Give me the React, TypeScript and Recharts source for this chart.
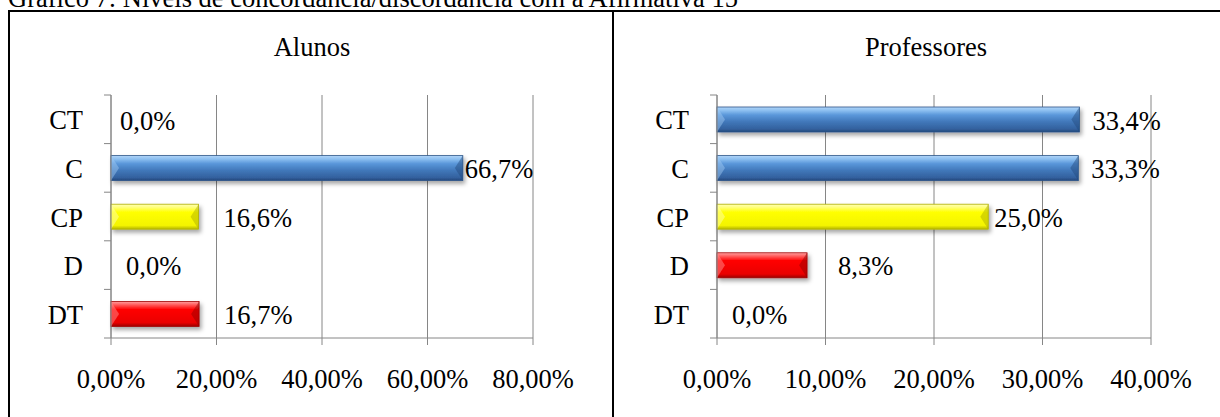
import React from 'react';
import { BarChart, Bar, XAxis, YAxis, CartesianGrid, LabelList } from 'recharts';

const categories = ['CT', 'C', 'CP', 'D', 'DT'];
const alunosValues = [0, 66.7, 16.6, 0, 16.7];
const professoresValues = [33.4, 33.3, 25.0, 8.3, 0];
const alunosTicks = [0, 20, 40, 60, 80];
const professoresTicks = [0, 10, 20, 30, 40];

const toneByCategory: Record<string, string> = { CT: 'blue', C: 'blue', CP: 'yellow', D: 'red', DT: 'red' };

// extra room (px) between a bar's end and its value label
const alunosLabelGap = [9, 2, 25, 15, 25];
const professoresLabelGap = [13, 13, 6, 31, 15];

const FONT = '"Liberation Serif", "Times New Roman", serif';
const FS = 26.5;
const GRID = '#868686';
const CHART_H = 417;
const PLOT_TOP = 95;
const PLOT_BOTTOM = 338;
const X_AXIS_H = 40;
const Y_AXIS_W = 60;

const TONES: Record<string, { stops: [number, string][]; light: string; dark: string; edge: string }> = {
  blue: {
    stops: [[0, '#b0d4f8'], [0.14, '#8cbff0'], [0.32, '#5a97da'], [0.6, '#4077b9'], [0.88, '#33619e'], [1, '#23477a']],
    light: '#a4ccf4',
    dark: '#22477a',
    edge: '#2d5689',
  },
  yellow: {
    stops: [[0, '#ffffb8'], [0.14, '#ffff70'], [0.32, '#ffff00'], [0.85, '#f4f400'], [1, '#b5b500']],
    light: '#ffffc0',
    dark: '#a8a800',
    edge: '#b0b000',
  },
  red: {
    stops: [[0, '#ffa0a0'], [0.14, '#ff5a5a'], [0.32, '#ff0000'], [0.85, '#ea0000'], [1, '#9c0000']],
    light: '#ff9c9c',
    dark: '#8c0000',
    edge: '#a00000',
  },
};

const pct1 = (v: number) => v.toFixed(1).replace('.', ',') + '%';
const pct2 = (v: number) => v.toFixed(2).replace('.', ',') + '%';

const BevelBar = (props: any) => {
  const { x, y, width, height, payload, chartId } = props;
  if (!width || width <= 0) return <g />;
  const toneName = toneByCategory[payload.cat];
  const tone = TONES[toneName];
  const b = Math.min(8, width / 2);
  return (
    <g filter={`url(#${chartId}-shadow)`}>
      <rect x={x} y={y} width={width} height={height} fill={`url(#${chartId}-${toneName})`} stroke={tone.edge} strokeWidth={0.8} />
      <polygon points={`${x},${y} ${x + b},${y + height / 2} ${x},${y + height}`} fill={tone.light} opacity={0.45} />
      <polygon points={`${x + width},${y} ${x + width - b},${y + height / 2} ${x + width},${y + height}`} fill={tone.dark} opacity={0.45} />
    </g>
  );
};

const CategoryTick = (props: any) => {
  const { x, y, payload, index, axisX, band, count } = props;
  return (
    <g>
      <line x1={axisX - 7} x2={axisX} y1={y - band / 2} y2={y - band / 2} stroke={GRID} />
      {index === count - 1 && <line x1={axisX - 7} x2={axisX} y1={y + band / 2} y2={y + band / 2} stroke={GRID} />}
      <text x={x} y={y} dy={1} textAnchor="end" dominantBaseline="central" fontFamily={FONT} fontSize={FS} fill="#000">
        {payload.value}
      </text>
    </g>
  );
};

interface PanelProps {
  id: string;
  title: string;
  values: number[];
  ticks: number[];
  labelGap: number[];
  left: number;
  width: number;
  plotLeft: number;
  plotRight: number;
  titleX: number;
}

const Panel = ({ id, title, values, ticks, labelGap, left, width, plotLeft, plotRight, titleX }: PanelProps) => {
  const data = categories.map((cat, i) => ({ cat, value: values[i] }));
  const band = (PLOT_BOTTOM - PLOT_TOP) / categories.length;

  const renderLabel = (p: any) => {
    const vb = p.viewBox || p;
    const bx = vb.x ?? p.x;
    const by = vb.y ?? p.y;
    const bw = vb.width ?? p.width ?? 0;
    const bh = vb.height ?? p.height ?? 0;
    const gap = labelGap[p.index] ?? 8;
    return (
      <text x={bx + bw + gap} y={by + bh / 2} dy={1} textAnchor="start" dominantBaseline="central" fontFamily={FONT} fontSize={FS} fill="#000">
        {pct1(Number(p.value))}
      </text>
    );
  };

  return (
    <>
      <div style={{ position: 'absolute', left: titleX - 150, top: 34, width: 300, textAlign: 'center', fontFamily: FONT, fontSize: FS, lineHeight: `${FS}px`, color: '#000' }}>
        {title}
      </div>
      <div style={{ position: 'absolute', left, top: 0 }}>
        <BarChart
          width={width}
          height={CHART_H}
          data={data}
          layout="vertical"
          barSize={25}
          margin={{
            top: PLOT_TOP,
            bottom: CHART_H - PLOT_BOTTOM - X_AXIS_H,
            left: plotLeft - Y_AXIS_W,
            right: width - plotRight,
          }}
        >
          <defs>
            {Object.entries(TONES).map(([name, t]) => (
              <linearGradient key={name} id={`${id}-${name}`} x1="0" y1="0" x2="0" y2="1">
                {t.stops.map(([o, c]) => (
                  <stop key={o} offset={o} stopColor={c} />
                ))}
              </linearGradient>
            ))}
            <filter id={`${id}-shadow`} x="-10%" y="-30%" width="130%" height="190%">
              <feDropShadow dx={2} dy={3} stdDeviation={2} floodColor="#000" floodOpacity={0.35} />
            </filter>
          </defs>
          <CartesianGrid horizontal={false} stroke={GRID} />
          <XAxis
            type="number"
            domain={[ticks[0], ticks[ticks.length - 1]]}
            ticks={ticks}
            interval={0}
            height={X_AXIS_H}
            tickFormatter={pct2}
            axisLine={{ stroke: GRID }}
            tickLine={{ stroke: GRID }}
            tickSize={7}
            tickMargin={24}
            tick={{ fontFamily: FONT, fontSize: FS, fill: '#000' }}
          />
          <YAxis
            type="category"
            dataKey="cat"
            width={Y_AXIS_W}
            axisLine={{ stroke: GRID }}
            tickLine={false}
            tickSize={7}
            tickMargin={21}
            interval={0}
            tick={<CategoryTick axisX={plotLeft} band={band} count={categories.length} />}
          />
          <Bar dataKey="value" isAnimationActive={false} shape={<BevelBar chartId={id} />}>
            <LabelList dataKey="value" content={renderLabel} />
          </Bar>
        </BarChart>
      </div>
    </>
  );
};

export default function App() {
  return (
    <div style={{ position: 'absolute', left: 0, top: 0, width: 1220, height: 417, overflow: 'hidden', background: '#fff', fontFamily: FONT }}>
      <div style={{ position: 'absolute', left: 8, top: -15, fontSize: FS, lineHeight: `${FS}px`, whiteSpace: 'nowrap', color: '#000' }}>
        Gráfico 7: Níveis de concordância/discordância com a Afirmativa 15
      </div>
      <div style={{ position: 'absolute', left: 8, top: 10, width: 1400, height: 600, border: '2px solid #000' }} />
      <div style={{ position: 'absolute', left: 612, top: 10, width: 2, height: 600, background: '#000' }} />
      <Panel
        id="alunos"
        title="Alunos"
        values={alunosValues}
        ticks={alunosTicks}
        labelGap={alunosLabelGap}
        left={0}
        width={612}
        plotLeft={111}
        plotRight={533}
        titleX={312}
      />
      <Panel
        id="professores"
        title="Professores"
        values={professoresValues}
        ticks={professoresTicks}
        labelGap={professoresLabelGap}
        left={612}
        width={608}
        plotLeft={105}
        plotRight={539}
        titleX={926}
      />
    </div>
  );
}
